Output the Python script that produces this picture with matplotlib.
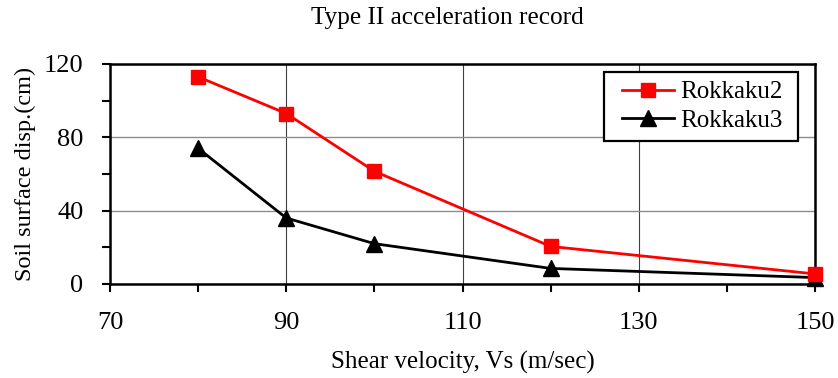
import matplotlib
matplotlib.use("Agg")
import matplotlib.pyplot as plt
from matplotlib.ticker import MultipleLocator
from matplotlib.legend_handler import HandlerLine2D

# Shear-wave velocity (m/sec) and computed soil surface displacement (cm)
vs = [80, 90, 100, 120, 150]
rokkaku2 = [113, 93, 61.5, 20.5, 5.5]
rokkaku3 = [74, 36, 22, 8.5, 3.5]
series_names = ["Rokkaku2", "Rokkaku3"]
x_ticks = [70, 90, 110, 130, 150]
y_ticks = [0, 40, 80, 120]

plt.rcParams["font.family"] = ["Liberation Serif", "DejaVu Serif"]

fig = plt.figure(figsize=(8.38, 3.78), dpi=100)
ax = fig.add_axes([110 / 838, 1 - 284 / 378, 705 / 838, 220 / 378])

l2, = ax.plot(vs, rokkaku2, color="#ff0000", lw=2.0, marker="s", ms=9.5,
              mec="#ff0000", mfc="#ff0000", label=series_names[0],
              clip_on=False, zorder=4)
l3, = ax.plot(vs, rokkaku3, color="black", lw=2.0, marker="^", ms=11,
              mec="black", mfc="black", label=series_names[1],
              clip_on=False, zorder=3)

ax.set_xlim(70, 150)
ax.set_ylim(0, 120)
ax.set_xticks(x_ticks)
ax.set_yticks(y_ticks)
ax.xaxis.set_minor_locator(MultipleLocator(10))
ax.yaxis.set_minor_locator(MultipleLocator(20))

ax.tick_params(which="both", direction="out", length=6, width=1.5,
               top=False, right=False, labelsize=19)
ax.tick_params(axis="x", pad=14)
ax.tick_params(axis="y", pad=13)

ax.grid(axis="x", which="major", color="#404040", lw=0.8)
ax.grid(axis="y", which="major", color="#8c8c8c", lw=1.0)
ax.set_axisbelow(True)

for s in ax.spines.values():
    s.set_linewidth(1.8)
    s.set_color("black")

ax.set_xlabel("Shear velocity, Vs (m/sec)", fontsize=18, labelpad=12)
ax.set_ylabel("Soil surface disp.(cm)", fontsize=17.5, labelpad=6)
fig.text(447.5 / 838, 1 - 18 / 378, "Type II acceleration record", ha="center",
         va="center", fontsize=18.2)

# Legend box stretched to a fixed width in the upper-right corner
x0 = (604 - 110) / 705
w = (798 - 604) / 705
y_top = (284 - 72) / 220
leg = ax.legend(handles=[l2, l3], loc="upper left",
                bbox_to_anchor=(x0, y_top - 0.4, w, 0.4), mode="expand",
                fontsize=18, frameon=True, fancybox=False, edgecolor="black",
                framealpha=1, borderpad=0.35, handlelength=2.44,
                handletextpad=0.24, labelspacing=0.25, borderaxespad=0,
                handler_map={l2: HandlerLine2D(xpad=0.36),
                             l3: HandlerLine2D(xpad=0.36)})
leg.get_frame().set_linewidth(1.6)

fig.savefig("out.png", dpi=100)
